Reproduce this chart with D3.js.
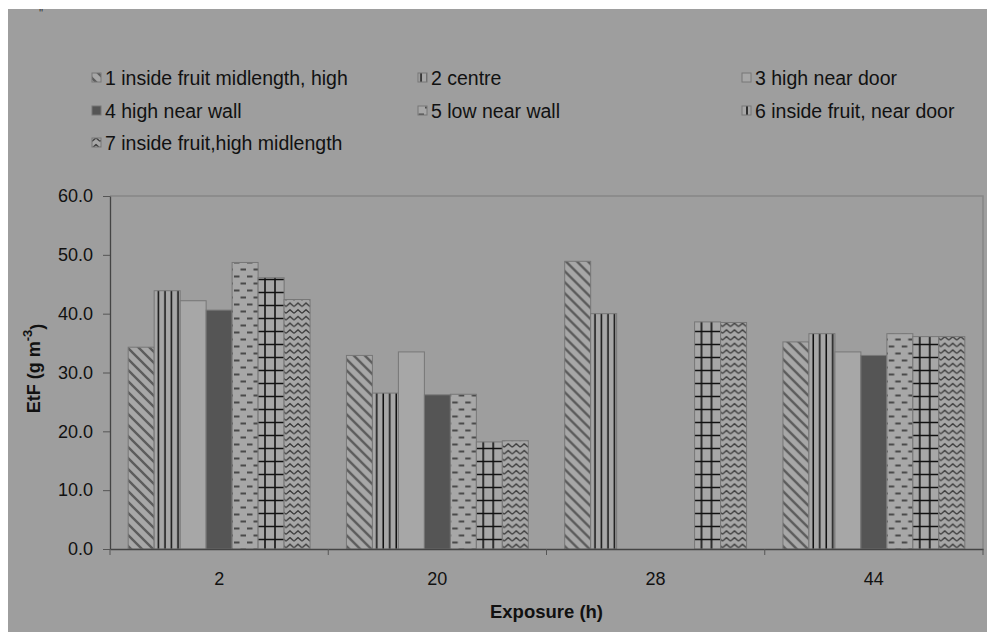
<!DOCTYPE html>
<html>
<head>
<meta charset="utf-8">
<script src="https://cdnjs.cloudflare.com/ajax/libs/d3/7.8.5/d3.min.js"></script>
<style>
  html, body { margin: 0; padding: 0; background: #fff; }
  svg { display: block; }
  text { font-family: "Liberation Sans", Arial, sans-serif; fill: #111; }
</style>
</head>
<body>
<div id="chart"></div>
<script>
const categories = ["2", "20", "28", "44"];
const seriesNames = [
  "1 inside fruit midlength, high",
  "2 centre",
  "3 high near door",
  "4 high near wall",
  "5 low near wall",
  "6 inside fruit, near door",
  "7 inside fruit,high midlength"
];
const series1 = [34.3, 32.9, 48.9, 35.2];
const series2 = [43.9, 26.5, 40.0, 36.6];
const series3 = [42.2, 33.5, null, 33.5];
const series4 = [40.6, 26.2, null, 32.9];
const series5 = [48.7, 26.3, null, 36.6];
const series6 = [46.1, 18.2, 38.6, 36.1];
const series7 = [42.4, 18.4, 38.5, 36.1];
const yTicks = [0, 10, 20, 30, 40, 50, 60];

const allSeries = [series1, series2, series3, series4, series5, series6, series7];

const W = 987, H = 632;
const margin = { top: 196, right: 4, bottom: 83, left: 110 };

const svg = d3.select("#chart").append("svg")
  .attr("width", W)
  .attr("height", H);

// grey page with a white strip top and left
svg.append("rect").attr("width", W).attr("height", H).attr("fill", "#fff");
svg.append("rect").attr("x", 8).attr("y", 9).attr("width", W - 8).attr("height", H - 9).attr("fill", "#9e9e9e");
svg.append("text").attr("x", 39).attr("y", 17).style("font-size", "11px").style("fill", "#333").text("''");

// fill patterns
const defs = svg.append("defs");
const light = "#a7a7a7";

function pat(id, w, h) {
  const p = defs.append("pattern").attr("id", id)
    .attr("patternUnits", "userSpaceOnUse")
    .attr("width", w).attr("height", h);
  p.append("rect").attr("width", w).attr("height", h).attr("fill", light);
  return p;
}

pat("p1", 11, 11).append("path")
  .attr("d", "M-3,-3 L14,14 M-3,8 L3,14 M8,-3 L14,3")
  .attr("stroke", "#5c5c5c").attr("stroke-width", 2.4);

pat("p2", 6.5, 10).append("line")
  .attr("x1", 3).attr("x2", 3).attr("y1", 0).attr("y2", 10)
  .attr("stroke", "#111").attr("stroke-width", 1.5);

pat("p3", 10, 10);

const p5 = pat("p5", 13, 14);
p5.append("path")
  .attr("d", "M0.5,3.5 L6,3.5 M7,10.5 L12.5,10.5")
  .attr("stroke", "#4a4a4a").attr("stroke-width", 1.8);

const p6 = pat("p6", 10, 13);
p6.append("path")
  .attr("d", "M0,6.5 L10,6.5 M5,0 L5,13")
  .attr("stroke", "#111").attr("stroke-width", 1.6);

pat("p7", 8, 6.7).append("path")
  .attr("d", "M0,5 L4,1.6 L8,5")
  .attr("fill", "none").attr("stroke", "#333").attr("stroke-width", 1.2);

const fills = ["url(#p1)", "url(#p2)", "url(#p3)", "#555555", "url(#p5)", "url(#p6)", "url(#p7)"];

const x0 = d3.scaleBand()
  .domain(categories)
  .range([margin.left, W - margin.right])
  .paddingInner(0).paddingOuter(0);

const x1 = d3.scaleBand()
  .domain(d3.range(seriesNames.length))
  .range([0, x0.bandwidth()])
  .paddingInner(0).paddingOuter(0.7);

const y = d3.scaleLinear()
  .domain([0, 60])
  .range([H - margin.bottom, margin.top]);

// plot frame (top and right)
svg.append("path")
  .attr("d", `M${margin.left},${y(60)} H${W - margin.right} V${y(0)}`)
  .attr("fill", "none").attr("stroke", "#878787").attr("stroke-width", 1.5);

// bars
const groups = svg.selectAll("g.grp")
  .data(categories)
  .enter().append("g")
  .attr("class", "grp")
  .attr("transform", d => `translate(${x0(d)},0)`);

groups.selectAll("rect")
  .data((c, ci) => allSeries.map((s, si) => ({ si, v: s[ci] })).filter(d => d.v != null))
  .enter().append("rect")
  .attr("x", d => x1(d.si))
  .attr("y", d => y(d.v))
  .attr("width", x1.bandwidth())
  .attr("height", d => y(0) - y(d.v))
  .attr("fill", d => fills[d.si])
  .attr("stroke", "#777")
  .attr("stroke-width", 1);

// y axis
const yAxis = svg.append("g")
  .attr("transform", `translate(${margin.left},0)`)
  .call(d3.axisLeft(y).tickValues(yTicks).tickFormat(d3.format(".1f")).tickSize(7).tickSizeOuter(0).tickPadding(10));
yAxis.select(".domain").attr("stroke", "#444").attr("stroke-width", 1.3);
yAxis.selectAll(".tick line").attr("stroke", "#555");
yAxis.selectAll("text").style("font-size", "18px").style("fill", "#111").attr("font-family", null);

// x axis
const xAxis = svg.append("g")
  .attr("transform", `translate(0,${y(0)})`)
  .call(d3.axisBottom(x0).tickSize(0).tickPadding(23).tickSizeOuter(0));
xAxis.select(".domain").attr("stroke", "#444").attr("stroke-width", 1.3);
xAxis.selectAll("text").style("font-size", "18px").style("fill", "#111").attr("font-family", null);

// category boundary ticks
const bounds = categories.map(c => x0(c)).concat([x0(categories[categories.length - 1]) + x0.bandwidth()]);
xAxis.selectAll("line.bound")
  .data(bounds)
  .enter().append("line")
  .attr("class", "bound")
  .attr("x1", d => d).attr("x2", d => d)
  .attr("y1", 0).attr("y2", 6)
  .attr("stroke", "#555");

// axis titles
svg.append("text")
  .attr("x", (margin.left + W - margin.right) / 2)
  .attr("y", 618)
  .attr("text-anchor", "middle")
  .style("font-size", "18.5px")
  .style("font-weight", "bold")
  .text("Exposure (h)");

const yt = svg.append("text")
  .attr("transform", `translate(40,${(y(0) + y(60)) / 2 - 4}) rotate(-90)`)
  .attr("text-anchor", "middle")
  .style("font-size", "18px")
  .style("font-weight", "bold");
yt.append("tspan").text("EtF (g m");
yt.append("tspan").attr("dy", "-0.6em").style("font-size", "13px").text("-3");
yt.append("tspan").attr("dy", "0.6em").text(")");

// legend
const legendX = [92, 418, 742];
const legendY = [78, 111, 143];
const legend = svg.selectAll("g.leg")
  .data(seriesNames)
  .enter().append("g")
  .attr("class", "leg")
  .attr("transform", (d, i) => `translate(${legendX[i % 3]},${legendY[Math.floor(i / 3)]})`);

legend.append("rect")
  .attr("x", 0).attr("y", -5)
  .attr("width", 9).attr("height", 9)
  .attr("fill", (d, i) => fills[i])
  .attr("stroke", "#777").attr("stroke-width", 1);

legend.append("text")
  .attr("x", 13)
  .attr("y", 0)
  .attr("dy", "0.35em")
  .style("font-size", "19.5px")
  .text(d => d);
</script>
</body>
</html>
